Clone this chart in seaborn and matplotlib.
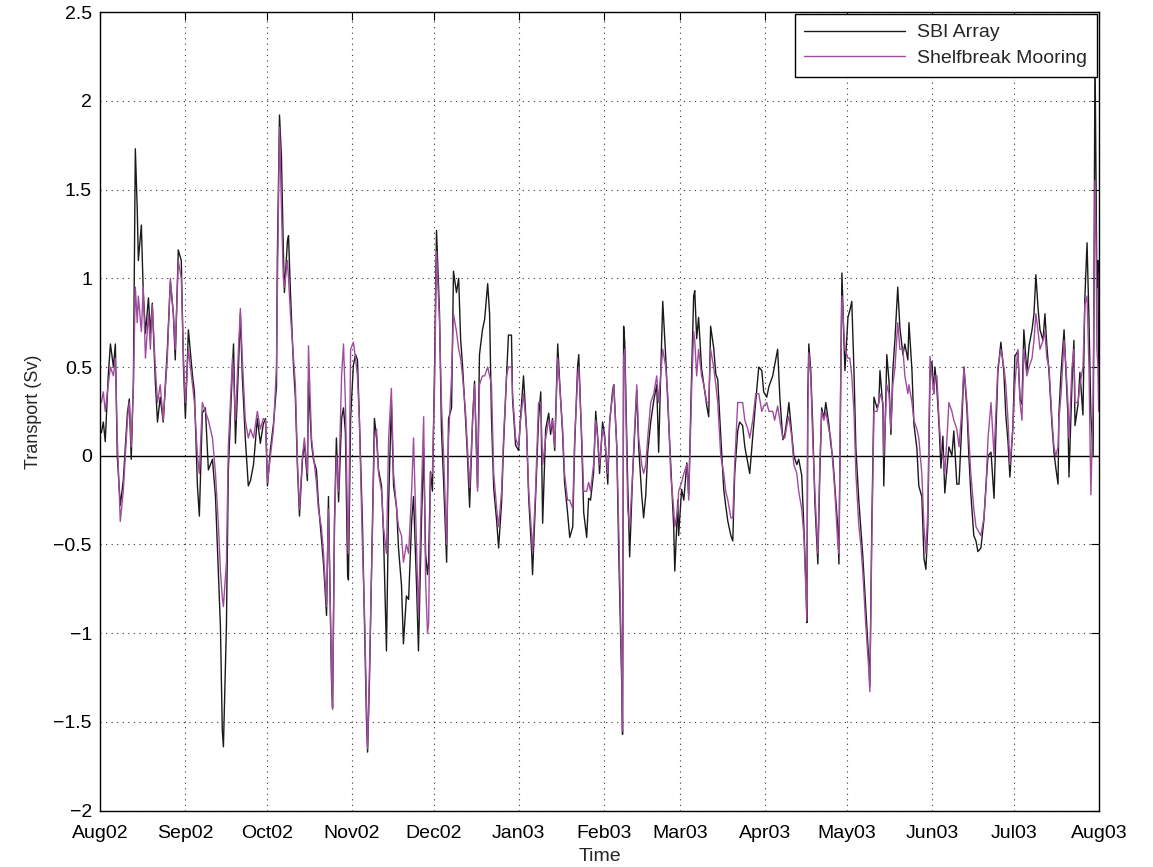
import numpy as np
import pandas as pd
import matplotlib
matplotlib.use("Agg")
import matplotlib.pyplot as plt
import matplotlib.dates as mdates
import seaborn as sns

start_date = "2002-08-01"

# days since 2002-08-01
day_offset = [
    0.4, 1.1, 1.8, 2.9, 3.7, 4.8, 5.5, 6.2, 7.3, 8.4, 9.9, 10.6, 11.3, 12.1, 12.8, 13.5, 13.9, 15.0, 15.7, 16.5,
    17.6, 18.3, 19.0, 20.1, 20.9, 21.9, 23.0, 24.5, 25.6, 26.7, 27.4, 28.5, 29.6, 30.4, 31.1, 32.2, 33.7, 34.4, 35.5, 36.2,
    37.3, 38.4, 39.5, 41.0, 42.1, 43.2, 43.9, 44.6, 45.0, 46.1, 46.8, 48.3, 48.7, 49.4, 50.5, 51.2, 51.9, 53.0, 54.1, 54.9,
    56.0, 57.4, 58.5, 59.6,
    60.4, 61.1, 62.2, 63.3, 64.4, 64.7, 65.5, 66.2, 66.9, 67.3, 68.4, 68.8, 69.5, 70.6, 71.3, 72.1, 72.8, 73.9, 74.6, 75.7,
    76.1, 77.2, 77.9, 79.0, 79.7, 80.8, 81.6, 82.7, 83.4, 84.5, 84.9, 85.6, 86.3, 87.1, 88.2, 88.9, 89.6, 90.4, 90.7, 91.5,
    92.5, 93.3, 94.0, 94.7, 95.8, 96.6, 97.3, 97.7, 98.4, 99.5, 100.2, 101.0, 101.7, 102.8, 103.5, 104.6, 105.4, 106.4, 107.2, 108.3,
    109.0, 110.1, 110.8, 111.9, 112.7, 113.8, 114.5, 115.6, 116.3, 117.4, 118.2, 118.9, 119.6, 120.0, 120.7, 121.4, 122.2, 122.9, 124.0, 124.7,
    125.5, 126.6, 127.3, 128.4, 129.1, 130.2, 131.0, 131.7, 132.4, 133.5, 134.2, 135.0, 136.1, 136.8, 137.9, 138.6, 139.7, 140.5, 141.6, 142.3,
    143.0, 143.8, 144.9, 145.6, 146.7, 147.4, 148.5, 149.2, 150.3, 150.7, 151.8, 152.9, 153.6, 154.7, 155.8, 156.6, 157.7, 158.0, 159.1, 160.2,
    161.0, 161.7, 162.8, 163.9, 164.6, 165.3, 166.1, 167.2, 167.9, 169.0, 169.7, 170.8, 171.6, 172.7, 173.4, 174.5, 174.9, 176.0, 176.7, 177.8,
    178.5, 179.2, 180.3, 181.1, 181.8, 182.5, 183.6, 184.4, 185.5, 186.2, 187.3, 187.7, 188.8, 189.5, 190.6, 190.9, 191.3, 191.7, 192.8, 193.5,
    194.6, 195.0, 196.1, 196.8, 197.9, 198.6, 199.4, 200.1, 201.2, 202.3, 203.4, 204.1, 204.8, 205.6, 206.7, 207.4, 208.5, 209.6, 210.0, 211.1,
    211.4, 212.5, 213.3, 214.4, 215.1, 216.2, 216.9, 217.3, 218.0, 218.7, 219.8, 220.6, 221.7, 222.4, 223.1, 224.2, 225.0, 225.7, 226.8, 227.9,
    228.6, 229.4, 230.5, 231.2, 231.9, 233.0, 233.7, 234.8, 235.6, 236.7, 237.4, 238.5, 239.6, 240.7, 241.8, 242.5, 243.6, 244.4, 245.8, 246.5,
    247.6, 248.4, 249.5, 250.2, 251.3, 251.7, 252.8, 253.5, 254.6, 255.3, 256.4, 257.2, 257.9, 258.3, 258.6, 259.0, 259.7, 260.4, 261.2, 262.3,
    263.0, 263.7, 264.5, 265.2, 266.3, 267.0, 267.8, 268.5, 269.6, 270.0, 270.7, 271.1, 271.8, 272.2, 273.3, 274.0, 274.7, 275.5, 276.2, 277.3,
    278.0, 278.7, 279.8, 280.9, 281.3, 282.0, 282.8, 283.9, 284.6, 285.0, 286.1, 286.4, 287.5, 288.3, 289.0, 289.7, 290.5, 291.5, 292.3, 293.4,
    294.1, 295.2, 295.6, 296.7, 297.4, 298.5, 299.2, 300.3, 301.1, 301.8, 302.5, 303.3, 304.0, 304.7, 305.1, 305.8, 306.6, 307.3, 308.0, 308.7,
    309.5, 310.2, 311.3, 312.0, 313.1, 313.9, 314.9, 315.7, 316.8, 317.5, 318.2, 319.3, 320.1, 320.8, 321.9, 323.0, 323.7, 324.5, 325.6, 326.7,
    327.4, 328.1, 329.2, 330.3, 331.0, 331.8, 332.5, 333.6, 334.3, 335.4, 336.2, 336.9, 337.6, 338.7, 339.5, 340.6, 341.3, 342.0, 342.8, 343.5,
    344.6, 345.3, 346.0, 346.8, 347.9, 348.6, 349.3, 350.1, 350.4, 351.2, 352.3, 353.0, 353.7, 354.1, 355.2, 355.9, 356.3, 357.4, 358.1, 359.2,
    359.9, 360.7, 361.4, 362.1, 362.9, 363.2, 363.6, 364.0, 364.3, 364.7, 364.95,
]

sbi_array = [
    0.13, 0.19, 0.08, 0.45, 0.63, 0.50, 0.63, 0.00, -0.28, -0.14, 0.24, 0.32, -0.02, 0.42, 1.73, 1.39, 1.10, 1.30, 0.92, 0.69,
    0.89, 0.69, 0.86, 0.42, 0.19, 0.33, 0.19, 0.60, 0.98, 0.80, 0.54, 1.16, 1.10, 0.50, 0.21, 0.71, 0.45, 0.36, -0.17, -0.34,
    0.24, 0.27, -0.08, -0.02, -0.23, -0.67, -0.96, -1.55, -1.64, -0.96, -0.08, 0.50, 0.63, 0.07, 0.50, 0.80, 0.45, 0.10, -0.17, -0.14,
    -0.05, 0.21, 0.07, 0.18,
    0.21, -0.17, 0.04, 0.18, 0.39, 1.10, 1.92, 1.69, 1.16, 0.92, 1.21, 1.24, 0.92, 0.51, 0.33, -0.08, -0.34, -0.02, 0.07, -0.14,
    0.42, 0.07, -0.02, -0.08, -0.26, -0.46, -0.61, -0.90, -0.23, -1.26, -1.42, -0.37, 0.10, -0.26, 0.21, 0.27, 0.13, -0.67, -0.70, 0.21,
    0.51, 0.57, 0.54, 0.21, -0.37, -0.96, -1.49, -1.67, -1.26, -0.37, 0.21, 0.10, -0.08, -0.17, -0.43, -1.10, -0.26, 0.30, -0.17, -0.29,
    -0.52, -0.73, -1.06, -0.79, -0.81, -0.37, -0.23, -0.73, -1.10, -0.37, 0.04, -0.55, -0.67, -0.60, -0.09, -0.20, 0.51, 1.27, 0.80, 0.15,
    -0.15, -0.60, 0.21, 0.27, 1.04, 0.92, 1.00, 0.66, 0.51, 0.21, 0.00, -0.29, 0.21, 0.42, -0.18, 0.57, 0.71, 0.77, 0.97, 0.80,
    0.21, -0.18, -0.37, -0.52, -0.26, 0.06, 0.45, 0.68, 0.68, 0.32, 0.06, 0.03, 0.21, 0.45, 0.15, -0.24, -0.55, -0.67, -0.24, 0.21,
    0.36, -0.38, 0.15, 0.24, 0.12, 0.21, 0.03, 0.63, 0.42, 0.12, -0.15, -0.32, -0.46, -0.40, 0.06, 0.51, 0.57, 0.06, -0.32, -0.46,
    -0.24, -0.25, -0.10, 0.25, 0.11, -0.10, 0.19, 0.11, -0.16, 0.19, 0.37, 0.40, 0.05, -0.54, -1.28, -1.57, 0.73, 0.64, -0.16, -0.57,
    -0.10, 0.02, 0.37, 0.05, -0.22, -0.35, -0.22, 0.02, 0.19, 0.31, 0.40, 0.02, 0.43, 0.87, 0.55, 0.31, -0.04, -0.40, -0.65, -0.25,
    -0.45, -0.19, -0.25, -0.04, -0.22, 0.49, 0.90, 0.93, 0.66, 0.78, 0.49, 0.40, 0.28, 0.22, 0.73, 0.61, 0.46, 0.43, 0.11, -0.19,
    -0.28, -0.37, -0.45, -0.48, -0.10, 0.14, 0.19, 0.17, 0.05, -0.04, -0.10, 0.11, 0.31, 0.50, 0.48, 0.36, 0.33, 0.39, 0.45, 0.51,
    0.60, 0.33, 0.09, 0.12, 0.24, 0.30, 0.12, 0.00, -0.05, -0.02, -0.11, -0.41, -0.70, -0.94, 0.33, 0.63, 0.48, 0.18, -0.26, -0.61,
    -0.11, 0.27, 0.21, 0.30, 0.18, 0.07, -0.02, -0.17, -0.41, -0.61, 0.48, 1.03, 0.66, 0.48, 0.78, 0.82, 0.87, 0.48, 0.04, -0.26,
    -0.41, -0.56, -0.85, -1.15, -1.30, -0.41, 0.33, 0.27, 0.30, 0.48, 0.27, -0.17, 0.57, 0.42, 0.12, 0.48, 0.66, 0.95, 0.72, 0.57,
    0.63, 0.54, 0.75, 0.48, 0.18, 0.04, -0.17, -0.23, -0.58, -0.64, -0.39, 0.47, 0.53, 0.35, 0.50, 0.38, 0.17, -0.07, 0.11, -0.21,
    -0.07, 0.05, 0.00, 0.14, -0.16, -0.16, 0.17, 0.50, 0.26, 0.00, -0.21, -0.45, -0.48, -0.54, -0.52, -0.36, -0.18, 0.00, 0.02, -0.24,
    0.14, 0.47, 0.64, 0.47, 0.23, 0.08, -0.12, 0.17, 0.56, 0.59, 0.32, 0.29, 0.71, 0.47, 0.62, 0.71, 0.80, 1.02, 0.83, 0.71,
    0.65, 0.80, 0.62, 0.47, 0.17, 0.02, -0.07, -0.16, 0.23, 0.47, 0.71, 0.47, 0.23, -0.12, 0.41, 0.65, 0.17, 0.29, 0.47, 0.23,
    0.89, 1.20, 0.77, 0.23, 0.00, 0.80, 2.30, 1.50, 0.95, 1.10, 0.30,
]

shelfbreak_mooring = [
    0.30, 0.36, 0.25, 0.40, 0.50, 0.45, 0.55, 0.10, -0.37, -0.20, 0.20, 0.30, 0.05, 0.40, 0.95, 0.75, 0.90, 0.70, 0.95, 0.55,
    0.80, 0.60, 0.85, 0.50, 0.30, 0.40, 0.20, 0.55, 1.00, 0.80, 0.60, 1.10, 1.00, 0.55, 0.30, 0.60, 0.40, 0.30, 0.00, -0.10,
    0.30, 0.25, 0.20, 0.10, -0.10, -0.40, -0.65, -0.80, -0.85, -0.60, 0.05, 0.55, 0.45, 0.20, 0.60, 0.83, 0.55, 0.20, 0.10, 0.15,
    0.10, 0.25, 0.15, 0.21,
    0.20, -0.15, 0.00, 0.15, 0.50, 0.90, 1.85, 1.40, 1.00, 0.95, 1.10, 1.00, 0.80, 0.55, 0.40, -0.05, -0.30, 0.00, 0.10, -0.10,
    0.62, 0.10, 0.00, -0.15, -0.30, -0.40, -0.55, -0.85, -0.30, -1.20, -1.43, -0.40, 0.00, -0.20, 0.45, 0.63, 0.30, -0.40, -0.55, 0.60,
    0.64, 0.55, 0.45, 0.20, -0.50, -0.90, -1.40, -1.65, -1.20, -0.40, 0.10, 0.15, -0.10, -0.20, -0.40, -0.55, 0.10, 0.38, -0.10, -0.30,
    -0.40, -0.45, -0.60, -0.50, -0.55, -0.20, 0.10, -0.50, -0.90, -0.20, 0.22, -0.70, -1.00, -0.95, -0.10, -0.10, 0.40, 1.15, 0.75, 0.30,
    0.00, -0.50, 0.10, 0.45, 0.80, 0.70, 0.60, 0.55, 0.45, 0.25, 0.05, -0.18, 0.20, 0.40, -0.20, 0.40, 0.45, 0.45, 0.50, 0.45,
    0.40, -0.10, -0.30, -0.40, -0.20, 0.10, 0.45, 0.50, 0.50, 0.35, 0.10, 0.05, 0.20, 0.35, 0.15, -0.20, -0.45, -0.55, -0.20, 0.30,
    0.30, -0.05, 0.10, 0.20, 0.15, 0.20, 0.05, 0.55, 0.40, 0.15, -0.10, -0.25, -0.25, -0.30, 0.10, 0.45, 0.50, 0.10, -0.20, -0.20,
    -0.15, -0.20, -0.05, 0.20, 0.10, -0.05, 0.15, 0.10, -0.10, 0.20, 0.35, 0.40, 0.05, -0.40, -1.20, -1.55, 0.55, 0.60, -0.30, -0.40,
    -0.10, 0.05, 0.40, 0.10, -0.05, -0.10, -0.05, 0.10, 0.30, 0.35, 0.45, 0.30, 0.45, 0.60, 0.50, 0.35, -0.10, -0.30, -0.40, -0.30,
    -0.20, -0.15, -0.10, -0.05, -0.25, 0.40, 0.70, 0.65, 0.45, 0.60, 0.45, 0.40, 0.30, 0.30, 0.60, 0.50, 0.40, 0.30, 0.00, -0.10,
    -0.20, -0.25, -0.35, -0.35, -0.05, 0.30, 0.30, 0.30, 0.20, 0.15, 0.10, 0.20, 0.35, 0.35, 0.25, 0.28, 0.30, 0.25, 0.25, 0.20,
    0.28, 0.20, 0.10, 0.10, 0.20, 0.22, 0.10, -0.05, -0.10, -0.20, -0.30, -0.45, -0.75, -0.93, 0.20, 0.58, 0.45, 0.10, -0.20, -0.55,
    -0.05, 0.25, 0.20, 0.25, 0.15, 0.10, -0.05, -0.20, -0.50, -0.55, 0.50, 0.90, 0.70, 0.60, 0.55, 0.55, 0.45, 0.25, -0.10, -0.40,
    -0.50, -0.65, -0.95, -1.20, -1.33, -0.50, 0.25, 0.25, 0.30, 0.35, 0.30, 0.00, 0.40, 0.35, 0.15, 0.40, 0.50, 0.75, 0.60, 0.60,
    0.45, 0.35, 0.40, 0.30, 0.20, 0.15, 0.10, -0.10, -0.40, -0.55, -0.30, 0.56, 0.45, 0.35, 0.45, 0.45, 0.20, 0.05, 0.00, -0.10,
    0.10, 0.30, 0.25, 0.20, 0.15, 0.05, 0.25, 0.50, 0.30, 0.10, -0.10, -0.30, -0.40, -0.42, -0.45, -0.35, -0.20, 0.10, 0.30, 0.00,
    0.25, 0.50, 0.60, 0.50, 0.40, 0.20, -0.05, 0.15, 0.40, 0.60, 0.30, 0.20, 0.60, 0.45, 0.50, 0.55, 0.65, 0.80, 0.70, 0.60,
    0.65, 0.70, 0.55, 0.50, 0.20, 0.05, 0.00, 0.05, 0.20, 0.35, 0.65, 0.50, 0.30, 0.10, 0.50, 0.60, 0.30, 0.30, 0.40, 0.50,
    0.85, 0.90, 0.50, -0.22, 0.30, 0.80, 1.55, 1.20, 0.60, 0.50, 0.25,
]

series_names = ["SBI Array", "Shelfbreak Mooring"]
series_colors = ["#1a1a1a", "#a04c9e"]
y_ticks = [-2, -1.5, -1, -0.5, 0, 0.5, 1, 1.5, 2, 2.5]

assert len(day_offset) == len(sbi_array) == len(shelfbreak_mooring)

t0 = pd.Timestamp(start_date)
dates = t0 + pd.to_timedelta(day_offset, unit="D")
df = pd.DataFrame({
    "Time": list(dates) * 2,
    "Transport": sbi_array + shelfbreak_mooring,
    "Series": [series_names[0]] * len(sbi_array) + [series_names[1]] * len(shelfbreak_mooring),
})

sns.set_style("white")
plt.rcParams["font.family"] = ["Liberation Sans", "DejaVu Sans"]

fig = plt.figure(figsize=(11.53, 8.67), dpi=100)
ax = fig.add_axes([0.087, 0.065, 0.866, 0.921])

sns.lineplot(data=df, x="Time", y="Transport", hue="Series", hue_order=series_names,
             palette=series_colors, linewidth=1.0, ax=ax, estimator=None, sort=False)

ax.axhline(0, color="black", linewidth=1.0, zorder=1)

ax.set_xlim(t0, pd.Timestamp("2003-08-01"))
ax.set_ylim(-2, 2.5)
ax.set_yticks(y_ticks)
ax.set_yticklabels([("%g" % v).replace("-", "\u2212") for v in y_ticks])
ax.xaxis.set_major_locator(mdates.MonthLocator())
ax.xaxis.set_major_formatter(mdates.DateFormatter("%b%y"))

ax.grid(True, linestyle=(0, (1, 4)), color="black", linewidth=0.8, alpha=0.8)
ax.tick_params(direction="in", length=6, width=0.8, top=True, right=True,
               labelsize=14, colors="black")
ax.tick_params(axis="x", pad=10)
ax.tick_params(axis="y", pad=6)
for s in ax.spines.values():
    s.set_visible(True)
    s.set_color("black")
    s.set_linewidth(1.0)

ax.set_xlabel("Time", fontsize=14, labelpad=5)
ax.set_ylabel("Transport (Sv)", fontsize=13, labelpad=8)

leg = ax.legend(loc="upper right", fontsize=14, frameon=True, fancybox=False,
                edgecolor="black", framealpha=1, handlelength=5.2, borderaxespad=0.1,
                borderpad=0.5, labelspacing=0.4, handletextpad=0.6)
leg.get_frame().set_linewidth(1.0)

fig.savefig("out.png", dpi=100)
